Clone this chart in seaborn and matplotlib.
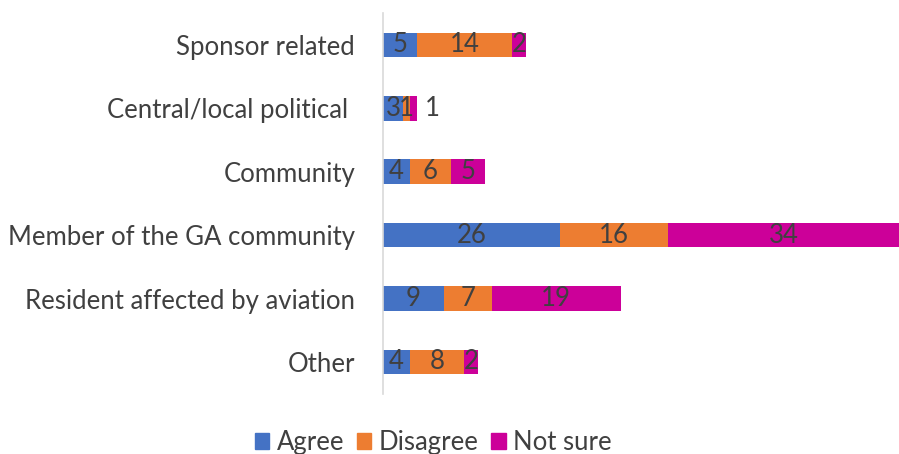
import matplotlib
matplotlib.use('Agg')
import matplotlib.pyplot as plt
import seaborn as sns
import pandas as pd
import numpy as np
from matplotlib.patches import Patch

categories = ['Sponsor related', 'Central/local political ', 'Community',
              'Member of the GA community', 'Resident affected by aviation', 'Other']
agree = [5, 3, 4, 26, 9, 4]
disagree = [14, 1, 6, 16, 7, 8]
not_sure = [2, 1, 5, 34, 19, 2]
series_names = ['Agree', 'Disagree', 'Not sure']
colors = ['#4472C4', '#ED7D31', '#CC0099']

df = pd.DataFrame({'cat': categories, 'Agree': agree, 'Disagree': disagree, 'Not sure': not_sure})
df['c1'] = df['Agree']
df['c2'] = df['Agree'] + df['Disagree']
df['c3'] = df['c2'] + df['Not sure']

sns.set_style('white')
plt.rcParams['font.family'] = ['Lato', 'DejaVu Sans']

fig = plt.figure(figsize=(8.99, 4.54), dpi=100)
ax = fig.add_axes([0.426, 0.133, 0.574, 0.838])

# stacked bars drawn as overlays of cumulative sums
for col, c in zip(['c3', 'c2', 'c1'], colors[::-1]):
    sns.barplot(data=df, x=col, y='cat', orient='h', color=c, width=0.39,
                saturation=1, ax=ax, linewidth=0)

ax.set_xlim(0, 76)
ax.set_xlabel('')
ax.set_ylabel('')
ax.set_xticks([])
for s in ['top', 'right', 'bottom']:
    ax.spines[s].set_visible(False)
ax.spines['left'].set_color('#d9d9d9')
ax.spines['left'].set_linewidth(1.2)
ax.tick_params(axis='y', length=0, pad=20, labelsize=18.5, labelcolor='#404040')

# segment labels
for i, row in df.iterrows():
    starts = [0, row['c1'], row['c2']]
    vals = [row['Agree'], row['Disagree'], row['Not sure']]
    for j, (s, v) in enumerate(zip(starts, vals)):
        x = s + v / 2
        if row['cat'].startswith('Central') and j == 2:
            x = row['c3'] + 2.2
        ax.text(x, i, str(v), ha='center', va='center', fontsize=18.5, color='#404040')

handles = [Patch(color=c, label=n) for c, n in zip(colors, series_names)]
fig.legend(handles=handles, loc='lower center', ncol=3, frameon=False,
           bbox_to_anchor=(0.482, -0.053), fontsize=18.5, handlelength=0.55,
           handleheight=0.55, handletextpad=0.3, columnspacing=0.5,
           labelcolor='#404040')

fig.savefig('out.png', dpi=100)
